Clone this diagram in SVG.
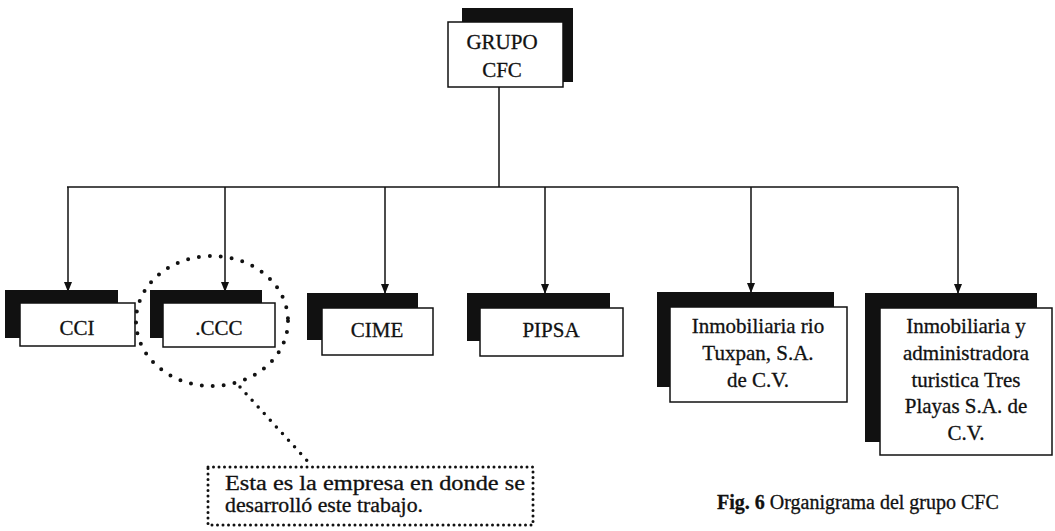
<svg xmlns="http://www.w3.org/2000/svg" width="1055" height="531" viewBox="0 0 1055 531">
<style>
  .shadow { fill: #111; }
  .box { fill: #fff; stroke: #111; stroke-width: 1.5; }
  .lbl { font-family: "Liberation Serif", "Times New Roman", serif; font-size: 21px; fill: #111; stroke: #111; stroke-width: 0.3; text-anchor: middle; }
  .conn { stroke: #111; stroke-width: 1.5; fill: none; }
  .dots { stroke: #111; fill: none; stroke-linecap: round; }
  .note { font-family: "Liberation Serif", "Times New Roman", serif; font-size: 20px; fill: #111; stroke: #111; stroke-width: 0.3; }
</style>
<defs>
  <marker id="arr" viewBox="0 0 10 8" refX="10" refY="4" markerWidth="10" markerHeight="8" markerUnits="userSpaceOnUse" orient="auto">
    <path d="M0,0 L10,4 L0,8 Z" fill="#111"/>
  </marker>
</defs>
<rect width="1055" height="531" fill="#fff"/>

<g id="connectors">
  <line class="conn" x1="499" y1="87" x2="499" y2="187"/>
  <line class="conn" x1="67" y1="187" x2="958" y2="187"/>
  <line class="conn" x1="68" y1="187" x2="68" y2="292" marker-end="url(#arr)"/>
  <line class="conn" x1="225" y1="187" x2="225" y2="292" marker-end="url(#arr)"/>
  <line class="conn" x1="385" y1="187" x2="385" y2="294" marker-end="url(#arr)"/>
  <line class="conn" x1="545" y1="187" x2="545" y2="294" marker-end="url(#arr)"/>
  <line class="conn" x1="751" y1="187" x2="751" y2="293" marker-end="url(#arr)"/>
  <line class="conn" x1="958" y1="187" x2="958" y2="294" marker-end="url(#arr)"/>
</g>

<g id="grupo-cfc">
  <rect class="shadow" x="462" y="8" width="111" height="74"/>
  <rect class="box" x="448" y="22" width="115" height="65"/>
  <text class="lbl" x="502" y="49">GRUPO</text>
  <text class="lbl" x="502" y="77">CFC</text>
</g>

<g id="cci">
  <rect class="shadow" x="5" y="290" width="113" height="48"/>
  <rect class="box" x="20" y="303" width="115" height="43"/>
  <text class="lbl" x="77" y="335">CCI</text>
</g>

<g id="ccc">
  <rect class="shadow" x="150" y="290" width="112" height="48"/>
  <rect class="box" x="163" y="303" width="112" height="44"/>
  <text class="lbl" x="219" y="335">.CCC</text>
</g>

<g id="cime">
  <rect class="shadow" x="307" y="293" width="111" height="47"/>
  <rect class="box" x="322" y="308" width="111" height="47"/>
  <text class="lbl" x="377" y="337">CIME</text>
</g>

<g id="pipsa">
  <rect class="shadow" x="467" y="293" width="143" height="48"/>
  <rect class="box" x="480" y="308" width="143" height="48"/>
  <text class="lbl" x="551" y="337">PIPSA</text>
</g>

<g id="tuxpan">
  <rect class="shadow" x="657" y="292" width="177" height="95"/>
  <rect class="box" x="670" y="307" width="177" height="95"/>
  <text class="lbl" x="758" y="333">Inmobiliaria rio</text>
  <text class="lbl" x="758" y="360">Tuxpan, S.A.</text>
  <text class="lbl" x="758" y="387">de C.V.</text>
</g>

<g id="tres-playas">
  <rect class="shadow" x="865" y="293" width="172" height="149"/>
  <rect class="box" x="880" y="308" width="172" height="147"/>
  <text class="lbl" x="966" y="333">Inmobiliaria y</text>
  <text class="lbl" x="966" y="360">administradora</text>
  <text class="lbl" x="966" y="387">turistica Tres</text>
  <text class="lbl" x="966" y="413">Playas S.A. de</text>
  <text class="lbl" x="966" y="440">C.V.</text>
</g>

<g id="callout">
  <ellipse class="dots" cx="212" cy="321" rx="76" ry="65" stroke-width="4" stroke-dasharray="0 11"/>
  <line class="dots" x1="240" y1="387" x2="312" y2="466" stroke-width="3.5" stroke-dasharray="0 9"/>
  <rect class="dots" x="208" y="467" width="325" height="58" stroke-width="3" stroke-dasharray="0 5.5"/>
  <text class="note" x="225" y="490" textLength="300" lengthAdjust="spacingAndGlyphs">Esta es la empresa en donde se</text>
  <text class="note" x="225" y="512" textLength="198" lengthAdjust="spacingAndGlyphs">desarrolló este trabajo.</text>
</g>

<g id="caption">
  <text class="note" x="717" y="509" font-size="17.5">
    <tspan font-weight="bold">Fig. 6</tspan> Organigrama del grupo CFC</text>
</g>
</svg>
